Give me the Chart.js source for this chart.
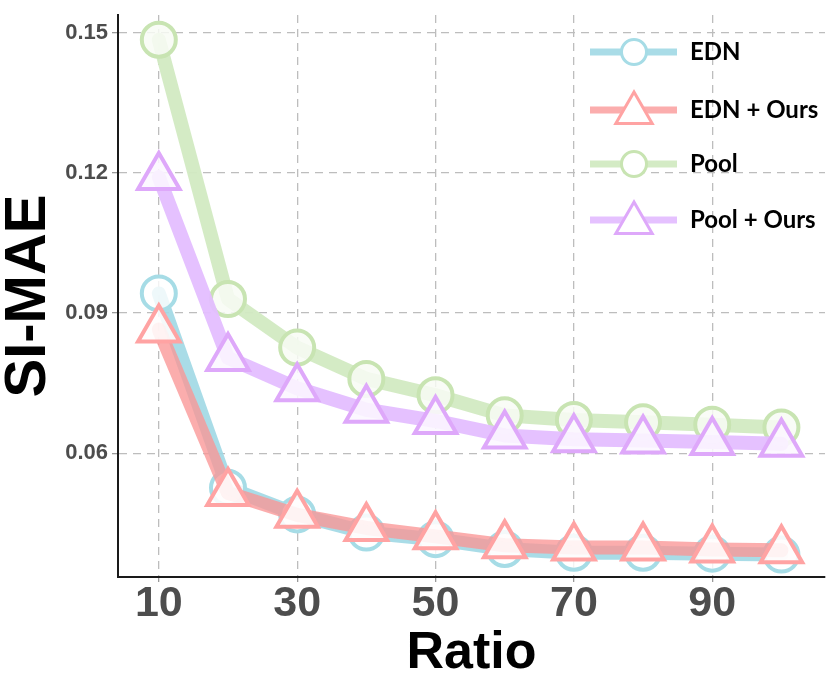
<!DOCTYPE html>
<html>
<head>
<meta charset="utf-8">
<title>SI-MAE vs Ratio</title>
<script src="https://cdn.jsdelivr.net/npm/chart.js@4.4.0/dist/chart.umd.min.js"></script>
<style>
    html, body { margin: 0; padding: 0; background: #fff; }
    #wrap { width: 831px; height: 694px; }
</style>
</head>
<body>
<div id="wrap"><canvas id="siChart" width="831" height="694"></canvas></div>
<script>
//--- Data ---//
const ratios = [10, 20, 30, 40, 50, 60, 70, 80, 90, 100];
const edn = [0.0942, 0.0526, 0.0469, 0.0430, 0.0416, 0.0395, 0.0387, 0.0387, 0.0385, 0.0383];
const ednOurs = [0.0865, 0.0515, 0.0468, 0.0440, 0.0422, 0.0403, 0.0398, 0.0398, 0.0394, 0.0392];
const pool = [0.1485, 0.0930, 0.0826, 0.0759, 0.0724, 0.0681, 0.0671, 0.0666, 0.0661, 0.0655];
const poolOurs = [0.1191, 0.0804, 0.0739, 0.0693, 0.0669, 0.0638, 0.0630, 0.0627, 0.0624, 0.0620];
const seriesNames = ['EDN', 'EDN + Ours', 'Pool', 'Pool + Ours'];
const xTicks = [10, 30, 50, 70, 90];
const yTicks = [0.06, 0.09, 0.12, 0.15];
//------------//

const canvas = document.getElementById('siChart');
const tickGray = '#4d4d4d';

//--- Helpers ---//
function toPoints(values) {
    return ratios.map((r, i) => ({ x: r, y: values[i] }));
}
// later series get a lower order so they are painted on top
function makeSeries(idx, values, line, marker, fill, style) {
    const isTri = style === 'triangle';
    return {
        label: seriesNames[idx],
        order: 10 - idx,
        data: toPoints(values),
        borderColor: line,
        borderWidth: 14,
        borderJoinStyle: 'round',
        borderCapStyle: 'round',
        tension: 0,
        fill: false,
        pointStyle: style,
        pointRadius: isTri ? 24 : 17,
        pointBorderWidth: 4,
        pointBorderColor: marker,
        pointBackgroundColor: fill,
        clip: false
    };
}
function fixTicks(list) {
    return scale => { scale.ticks = list.map(v => ({ value: v })); };
}
//--------------//

//--- Legend (line + marker keys) ---//
const keyLegend = {
    id: 'keyLegend',
    afterDraw(chart) {
        const ctx = chart.ctx;
        const rows = [52, 110, 164, 220];
        ctx.save();
        chart.data.datasets.forEach((ds, i) => {
            const y = rows[i];
            ctx.strokeStyle = ds.borderColor;
            ctx.lineWidth = 7;
            ctx.beginPath();
            ctx.moveTo(590, y);
            ctx.lineTo(677, y);
            ctx.stroke();

            ctx.fillStyle = '#ffffff';
            ctx.strokeStyle = ds.pointBorderColor;
            ctx.lineWidth = 3;
            ctx.beginPath();
            if (ds.pointStyle === 'triangle') {
                const r = 21;
                for (let k = 0; k < 3; k++) {
                    const a = k * 2 * Math.PI / 3;
                    const px = 634 + Math.sin(a) * r;
                    const py = y + 3 - Math.cos(a) * r;
                    if (k === 0) ctx.moveTo(px, py); else ctx.lineTo(px, py);
                }
                ctx.closePath();
            } else {
                ctx.arc(634, y, 12.5, 0, Math.PI * 2);
            }
            ctx.fill();
            ctx.stroke();

            ctx.fillStyle = '#000';
            ctx.font = 'bold 24px Lato';
            ctx.textBaseline = 'middle';
            ctx.textAlign = 'left';
            ctx.fillText(ds.label, 690, y);
        });
        ctx.restore();
    }
};
//------------------//

//---   Chart   ----//
function createChart() {
    new Chart(canvas, {
        type: 'line',
        data: {
            datasets: [
                makeSeries(0, edn, 'rgba(160,216,228,0.9)', '#a6dce6', 'rgba(255,255,255,0.8)', 'circle'),
                makeSeries(1, ednOurs, 'rgba(250,150,150,0.78)', '#ffa3a3', 'rgba(255,253,253,0.88)', 'triangle'),
                makeSeries(2, pool, 'rgba(210,234,194,0.95)', '#c8e4b2', 'rgba(248,252,245,0.85)', 'circle'),
                makeSeries(3, poolOurs, 'rgba(228,190,255,0.95)', '#dea8fa', 'rgba(252,247,255,0.88)', 'triangle')
            ]
        },
        options: {
            responsive: false,
            animation: false,
            devicePixelRatio: 1,
            layout: { autoPadding: false, padding: { top: 10, right: 6, left: 0, bottom: 0 } },
            plugins: { legend: { display: false }, tooltip: { enabled: false } },
            scales: {
                x: {
                    type: 'linear',
                    min: 4.1,
                    max: 106.3,
                    afterBuildTicks: fixTicks(xTicks),
                    afterFit: scale => { scale.height = 117; },
                    grid: { color: '#bdbdbd', lineWidth: 1.3, tickLength: 5, tickColor: '#9a9a9a', tickWidth: 1.3 },
                    border: { color: '#1a1a1a', width: 2, dash: [8, 6] },
                    ticks: {
                        color: tickGray,
                        padding: 1,
                        maxRotation: 0,
                        font: { family: 'Arial, "Liberation Sans"', weight: 'bold', size: 43, lineHeight: 1 },
                        callback: v => String(v)
                    },
                    title: {
                        display: true,
                        text: 'Ratio',
                        color: '#000',
                        padding: { top: 0, bottom: 14 },
                        font: { family: 'Arial, "Liberation Sans"', weight: 'bold', size: 52, lineHeight: 1 }
                    }
                },
                y: {
                    type: 'linear',
                    min: 0.0335,
                    max: 0.1538,
                    afterBuildTicks: fixTicks(yTicks),
                    afterFit: scale => { scale.width = 118; },
                    grid: { color: '#bdbdbd', lineWidth: 1.3, tickLength: 6, tickColor: '#9a9a9a', tickWidth: 1.3 },
                    border: { color: '#1a1a1a', width: 2, dash: [8, 6] },
                    ticks: {
                        color: tickGray,
                        padding: 4,
                        font: { family: 'Arial, "Liberation Sans"', weight: 'bold', size: 22, lineHeight: 1 },
                        callback: v => v.toFixed(2)
                    },
                    title: {
                        display: true,
                        text: 'SI-MAE',
                        color: '#000',
                        padding: { top: 0, bottom: 0 },
                        font: { family: 'Arial, "Liberation Sans"', weight: 'bold', size: 58, lineHeight: 1 }
                    }
                }
            }
        },
        plugins: [keyLegend]
    });
}
//------------------//
document.addEventListener('DOMContentLoaded', () => {
    createChart();
});
</script>
</body>
</html>
